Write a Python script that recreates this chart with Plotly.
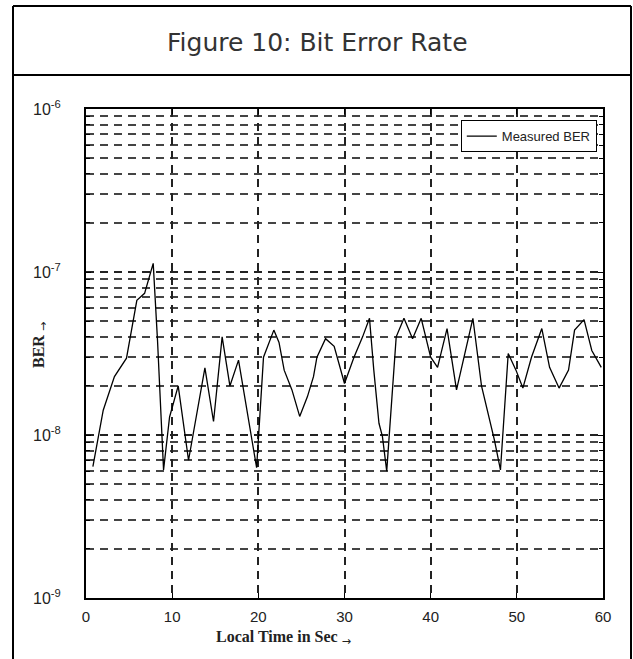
import plotly.graph_objects as go

# ---- data ----
time_s = [0.8, 2.0, 3.3, 4.7, 5.9, 6.8, 7.8, 8.3, 9.0, 9.7, 10.7, 11.9, 13.8, 14.8,
          15.8, 16.7, 17.7, 19.8, 20.6, 21.2, 21.8, 22.4, 23.0, 23.9, 24.8, 25.7,
          26.4, 26.8, 27.8, 28.8, 30.0, 31.1, 32.1, 32.9, 33.4, 34.0, 34.4, 34.9,
          36.0, 36.9, 37.9, 38.9, 40.0, 40.8, 41.9, 43.0, 43.9, 44.9, 45.9, 46.6,
          47.4, 48.1, 49.0, 49.9, 50.7, 51.7, 52.9, 53.8, 54.9, 56.0, 56.7, 57.8,
          58.7, 59.8]
ber = [6.4e-9, 1.42e-8, 2.28e-8, 2.96e-8, 6.7e-8, 7.4e-8, 1.13e-7, 3.8e-8, 6.1e-9,
       1.29e-8, 2.0e-8, 7.0e-9, 2.58e-8, 1.21e-8, 4.0e-8, 2.0e-8, 2.88e-8, 6.3e-9,
       3.0e-8, 3.66e-8, 4.4e-8, 3.7e-8, 2.5e-8, 1.89e-8, 1.3e-8, 1.72e-8, 2.28e-8,
       3.0e-8, 3.9e-8, 3.5e-8, 2.07e-8, 3.0e-8, 4.0e-8, 5.2e-8, 2.5e-8, 1.18e-8,
       9.8e-9, 6.0e-9, 4.0e-8, 5.2e-8, 3.9e-8, 5.2e-8, 3.0e-8, 2.6e-8, 4.5e-8,
       1.89e-8, 3.0e-8, 5.2e-8, 2.0e-8, 1.42e-8, 9.3e-9, 6.1e-9, 3.16e-8, 2.5e-8,
       1.94e-8, 3.0e-8, 4.5e-8, 2.6e-8, 1.94e-8, 2.5e-8, 4.4e-8, 5.1e-8, 3.3e-8,
       2.6e-8]

x_ticks = [0, 10, 20, 30, 40, 50, 60]
y_major = [1e-9, 1e-8, 1e-7, 1e-6]
y_major_labels = ["10<sup>-9</sup>", "10<sup>-8</sup>", "10<sup>-7</sup>", "10<sup>-6</sup>"]
y_minor = [k * 10.0 ** e for e in (-9, -8, -7) for k in range(2, 10)]

series_name = "Measured BER"
title_text = "Figure 10: Bit Error Rate"
ARROW = "<sub><span style='font-family:DejaVu Sans;font-weight:normal'>\u2192</span></sub>"
x_title = "<b>Local Time in Sec</b> " + ARROW
y_title = "<b>BER</b> " + ARROW

TICKFONT = "Liberation Sans, Arial, sans-serif"
SERIF = "Liberation Serif, Times New Roman, serif"

fig = go.Figure()
fig.add_trace(go.Scatter(x=time_s, y=ber, mode="lines", name=series_name,
                         line=dict(color="black", width=1.3)))

grid_dash = "8px,6px"
fig.update_layout(
    width=633, height=659,
    margin=dict(l=86, r=30, t=109, b=61),
    paper_bgcolor="white", plot_bgcolor="white",
    showlegend=True,
    legend=dict(x=0.988, y=0.977, xanchor="right", yanchor="top",
                bgcolor="white", bordercolor="black", borderwidth=1,
                font=dict(family=TICKFONT, size=13, color="#222"),
                itemwidth=30, tracegroupgap=0),
    xaxis=dict(range=[0, 60], tickvals=x_ticks, ticktext=[str(v) for v in x_ticks],
               showline=True, linecolor="black", linewidth=2, mirror="ticks",
               ticks="inside", ticklen=5, tickcolor="black",
               showgrid=True, gridcolor="#222", gridwidth=1.5, griddash=grid_dash,
               zeroline=False, ticklabelstandoff=4,
               tickfont=dict(family=TICKFONT, size=15, color="#222")),
    yaxis=dict(type="log", range=[-9, -6], tickvals=y_major, ticktext=y_major_labels,
               showline=True, linecolor="black", linewidth=2, mirror="ticks",
               ticks="inside", ticklen=5, tickcolor="black",
               showgrid=True, gridcolor="#222", gridwidth=1.5, griddash=grid_dash,
               zeroline=False, ticklabelstandoff=20,
               tickfont=dict(family=TICKFONT, size=16, color="#222"),
               minor=dict(tickvals=y_minor, ticks="inside", ticklen=4,
                          tickcolor="black", showgrid=True, gridcolor="#444",
                          gridwidth=1.5, griddash=grid_dash)),
)

def px_x(px):
    return (px - 86) / 517.0

def px_y(py):
    return (598 - py) / 489.0

# frame of the figure box
line_style = dict(color="black", width=2)
fig.add_shape(type="line", xref="paper", yref="paper", x0=px_x(13), x1=px_x(631),
              y0=px_y(6), y1=px_y(6), line=line_style)
fig.add_shape(type="line", xref="paper", yref="paper", x0=px_x(13), x1=px_x(631),
              y0=px_y(75), y1=px_y(75), line=line_style)
fig.add_shape(type="line", xref="paper", yref="paper", x0=px_x(13), x1=px_x(13),
              y0=px_y(6), y1=px_y(662), line=line_style)
fig.add_shape(type="line", xref="paper", yref="paper", x0=px_x(631), x1=px_x(631),
              y0=px_y(6), y1=px_y(662), line=line_style)

fig.add_annotation(text=title_text, xref="paper", yref="paper", x=px_x(317), y=px_y(42),
                   showarrow=False, xanchor="center", yanchor="middle",
                   font=dict(family="DejaVu Sans, sans-serif", size=25, color="#333"))
fig.add_annotation(text=x_title, xref="paper", yref="paper",
                   x=px_x(283), y=px_y(638), showarrow=False,
                   xanchor="center", yanchor="middle",
                   font=dict(family=SERIF, size=16, color="#222"))
fig.add_annotation(text=y_title, xref="paper", yref="paper",
                   x=px_x(40), y=px_y(345), showarrow=False, textangle=-90,
                   xanchor="center", yanchor="middle",
                   font=dict(family=SERIF, size=16, color="#222"))

fig.write_html("out.html")
